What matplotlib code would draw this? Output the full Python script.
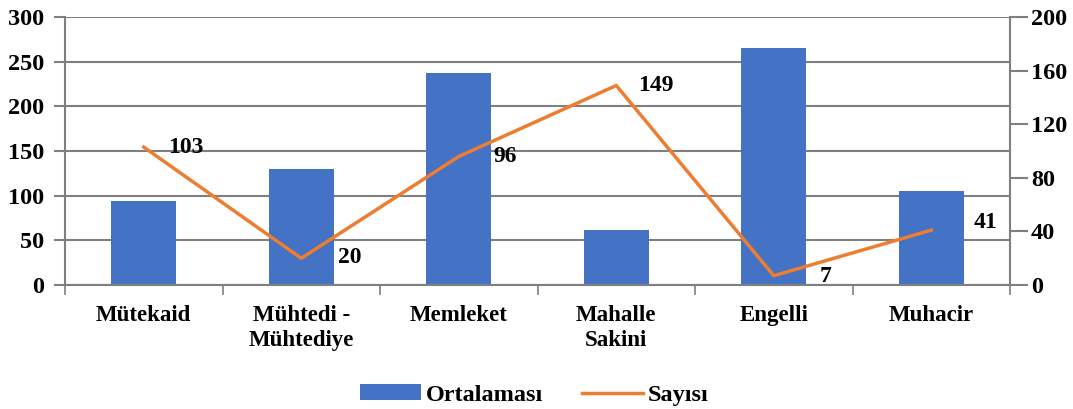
import numpy as np
import matplotlib.pyplot as plt
from matplotlib.ticker import FixedLocator

categories = ['Mütekaid', 'Mühtedi -\nMühtediye', 'Memleket', 'Mahalle\nSakini', 'Engelli', 'Muhacir']
ortalama = [94, 130, 237, 62, 266, 105]
sayi = [103, 20, 96, 149, 7, 41]
# where each value label sits relative to its point (pixels right, pixels up)
label_shift = [(24, 0), (37, 1), (35, 0), (22, 0), (46, -1), (42, 8)]

plt.rcParams['font.family'] = ['Liberation Serif', 'DejaVu Serif']
plt.rcParams['font.weight'] = 'bold'

blue = '#4472C4'
orange = '#ED7D31'
gray = '#7F7F7F'
px = 72 / 100  # points per pixel

fig = plt.figure(figsize=(10.73, 4.09), dpi=100)
ax = fig.add_axes([0.0606, 0.303, 0.8807, 0.655])
x = np.arange(len(categories))

ax.set_axisbelow(True)
ax.yaxis.grid(True, color=gray, linewidth=1.5)
bars = ax.bar(x, ortalama, width=0.41, color=blue, label='Ortalaması', zorder=2)
ax.set_ylim(0, 300)
ax.set_yticks(range(0, 301, 50))
ax.set_xlim(-0.5, len(categories) - 0.5)
ax.set_xticks(x)
ax.set_xticklabels(categories, fontsize=16.5, fontweight='bold', linespacing=1.25)
ax.xaxis.set_minor_locator(FixedLocator(np.arange(-0.5, len(categories), 1.0)))
ax.tick_params(axis='x', which='major', length=0, pad=14)
ax.tick_params(axis='x', which='minor', length=7, width=1.2, color=gray)
ax.tick_params(axis='y', length=8, width=1.5, color=gray, labelsize=17.5, pad=7)

ax2 = ax.twinx()
line, = ax2.plot(x, sayi, color=orange, linewidth=2.5, label='Sayısı', zorder=3)
ax2.set_ylim(0, 200)
ax2.set_yticks(range(0, 201, 40))
ax2.tick_params(axis='y', length=13, width=1.5, color=gray, labelsize=17.5, pad=2)
for xi, v, (dx, dy) in zip(x, sayi, label_shift):
    ax2.annotate(str(v), (xi, v), xytext=(dx * px, dy * px), textcoords='offset points',
                 ha='left', va='center', fontsize=17, fontweight='bold')

for a in (ax, ax2):
    a.spines['top'].set_visible(False)
    for s in ('left', 'right', 'bottom'):
        a.spines[s].set_color(gray)
        a.spines[s].set_linewidth(1.5)
ax.spines['right'].set_visible(False)
ax2.spines['left'].set_visible(False)
ax2.spines['bottom'].set_visible(False)

for lab in ax.get_yticklabels() + ax2.get_yticklabels():
    lab.set_fontweight('bold')

fig.legend([bars, line], ['Ortalaması', 'Sayısı'], loc='center', bbox_to_anchor=(0.498, 0.034),
           ncol=2, frameon=False, prop={'size': 17.5, 'weight': 'bold'},
           handlelength=2.5, handleheight=0.65, columnspacing=1.6, handletextpad=0.2)

fig.savefig('out.png', dpi=100)
